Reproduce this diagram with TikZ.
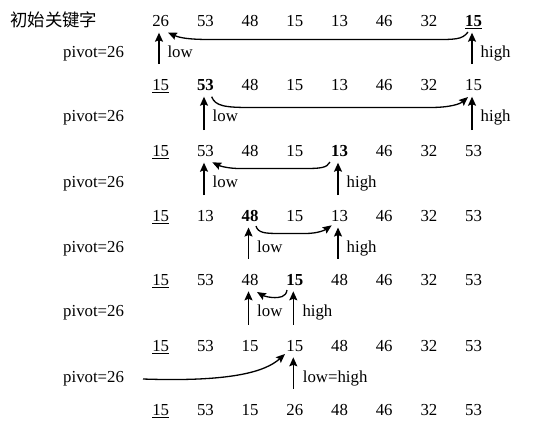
\documentclass[tikz,border=0pt]{standalone}
\usepackage{fontspec}
\setmainfont{Liberation Serif}
\newfontfamily\cjk{Noto Sans CJK SC}
\usetikzlibrary{arrows.meta}
\begin{document}
\begin{tikzpicture}[x=1pt,y=-1pt,
  num/.style={font=\fontsize{16.8}{20}\selectfont, inner sep=0pt, anchor=base},
  lbl/.style={font=\fontsize{16.8}{20}\selectfont, inner sep=0pt, anchor=base west},
  ptr/.style={line width=1.4pt, -{Stealth[length=9pt,width=8pt,inset=1.5pt]}},
  cur/.style={line width=1.3pt, -{Stealth[length=9pt,width=7.5pt,inset=1.5pt]}}]
\useasboundingbox (0,0) rectangle (545,424);

% header
\node[inner sep=0pt, anchor=base west, font=\cjk\fontsize{17.4}{20}\selectfont] (head) at (10,26.7) {初始关键字};

% rows of keys
\foreach \v [count=\i from 0] in {26,53,48,15,13,46,32,\underline{\textbf{15}}}
  \node[num] (r1c\i) at ({160.7+44.7*\i},26.7) {\v};
\foreach \v [count=\i from 0] in {\underline{15},\textbf{53},48,15,13,46,32,15}
  \node[num] (r2c\i) at ({160.7+44.7*\i},90.7) {\v};
\foreach \v [count=\i from 0] in {\underline{15},53,48,15,\textbf{13},46,32,53}
  \node[num] (r3c\i) at ({160.7+44.7*\i},156.7) {\v};
\foreach \v [count=\i from 0] in {\underline{15},13,\textbf{48},15,13,46,32,53}
  \node[num] (r4c\i) at ({160.7+44.7*\i},221.5) {\v};
\foreach \v [count=\i from 0] in {\underline{15},53,48,\textbf{15},48,46,32,53}
  \node[num] (r5c\i) at ({160.7+44.7*\i},285.3) {\v};
\foreach \v [count=\i from 0] in {\underline{15},53,15,15,48,46,32,53}
  \node[num] (r6c\i) at ({160.7+44.7*\i},351.3) {\v};
\foreach \v [count=\i from 0] in {\underline{15},53,15,26,48,46,32,53}
  \node[num] (r7c\i) at ({160.7+44.7*\i},415.3) {\v};

% pivot labels
\foreach \y [count=\k] in {57.7,121.7,187.7,252.5,316.3,382.3}
  \node[lbl] (pv\k) at (63,\y) {pivot=26};

% pointer arrows: bottom (b) and tip (t) coordinates
\coordinate (b1l) at (159,64.2);   \coordinate (t1l) at (159,32.7);
\coordinate (b1h) at (472,64.2);   \coordinate (t1h) at (472,32.7);
\coordinate (b2l) at (204,130.2);  \coordinate (t2l) at (204,96.7);
\coordinate (b2h) at (472,130.2);  \coordinate (t2h) at (472,96.7);
\coordinate (b3l) at (204,195);    \coordinate (t3l) at (204,162.7);
\coordinate (b3h) at (338,195);    \coordinate (t3h) at (338,162.7);
\coordinate (b4l) at (248.5,258.8);\coordinate (t4l) at (248.5,227.5);
\coordinate (b4h) at (338,258.8);  \coordinate (t4h) at (338,227.5);
\coordinate (b5l) at (248.5,324.8);\coordinate (t5l) at (248.5,291.3);
\coordinate (b5h) at (293.3,324.8);\coordinate (t5h) at (293.3,291.3);
\coordinate (b6) at (293.3,388.8); \coordinate (t6) at (293.3,357.3);

\foreach \p in {1l,1h,2l,2h,3l,3h,4l,4h,5l,5h,6}
  \draw[ptr] (b\p) -- (t\p);

% pointer labels
\node[lbl] (lo1) at (167.3,57.7) {low};
\node[lbl] (hi1) at (480.5,57.7) {high};
\node[lbl] (lo2) at (212.5,121.7) {low};
\node[lbl] (hi2) at (480.5,121.7) {high};
\node[lbl] (lo3) at (212.5,187.7) {low};
\node[lbl] (hi3) at (346.5,187.7) {high};
\node[lbl] (lo4) at (257,252.5) {low};
\node[lbl] (hi4) at (346.5,252.5) {high};
\node[lbl] (lo5) at (257,316.3) {low};
\node[lbl] (hi5) at (302.3,316.3) {high};
\node[lbl] (lh6) at (302.7,382.3) {low=high};

% moving arrows
\coordinate (c1s) at (468,32);    \coordinate (c1e) at (168,32.5);
\coordinate (c2s) at (211.7,96.7);\coordinate (c2e) at (468,97);
\coordinate (c3s) at (330,162);   \coordinate (c3e) at (212.3,162.3);
\coordinate (c4s) at (256,226);   \coordinate (c4e) at (331.7,225.3);
\coordinate (c5s) at (287,290);   \coordinate (c5e) at (257,292);
\coordinate (c6s) at (143,379);   \coordinate (c6e) at (285,354);

\draw[cur] (c1s) .. controls (462,40) and (455,39.5) .. (430,39.5) -- (210,39.5) .. controls (190,39.5) and (180,38) .. (c1e);
\draw[cur] (c2s) .. controls (215,106) and (225,107.5) .. (250,107.5) -- (430,107.5) .. controls (450,107.5) and (460,104) .. (c2e);
\draw[cur] (c3s) .. controls (327,168) and (320,168.5) .. (305,168.5) -- (240,168.5) .. controls (228,168.5) and (220,166) .. (c3e);
\draw[cur] (c4s) .. controls (258,233) and (265,233.5) .. (280,233.5) -- (305,233.5) .. controls (318,233.5) and (325,230) .. (c4e);
\draw[cur] (c5s) .. controls (286,297) and (280,298) .. (272,297.5) .. controls (266,297) and (262,295) .. (c5e);
\draw[cur] (c6s) .. controls (230,382) and (265,372) .. (c6e);
\end{tikzpicture}
\end{document}
